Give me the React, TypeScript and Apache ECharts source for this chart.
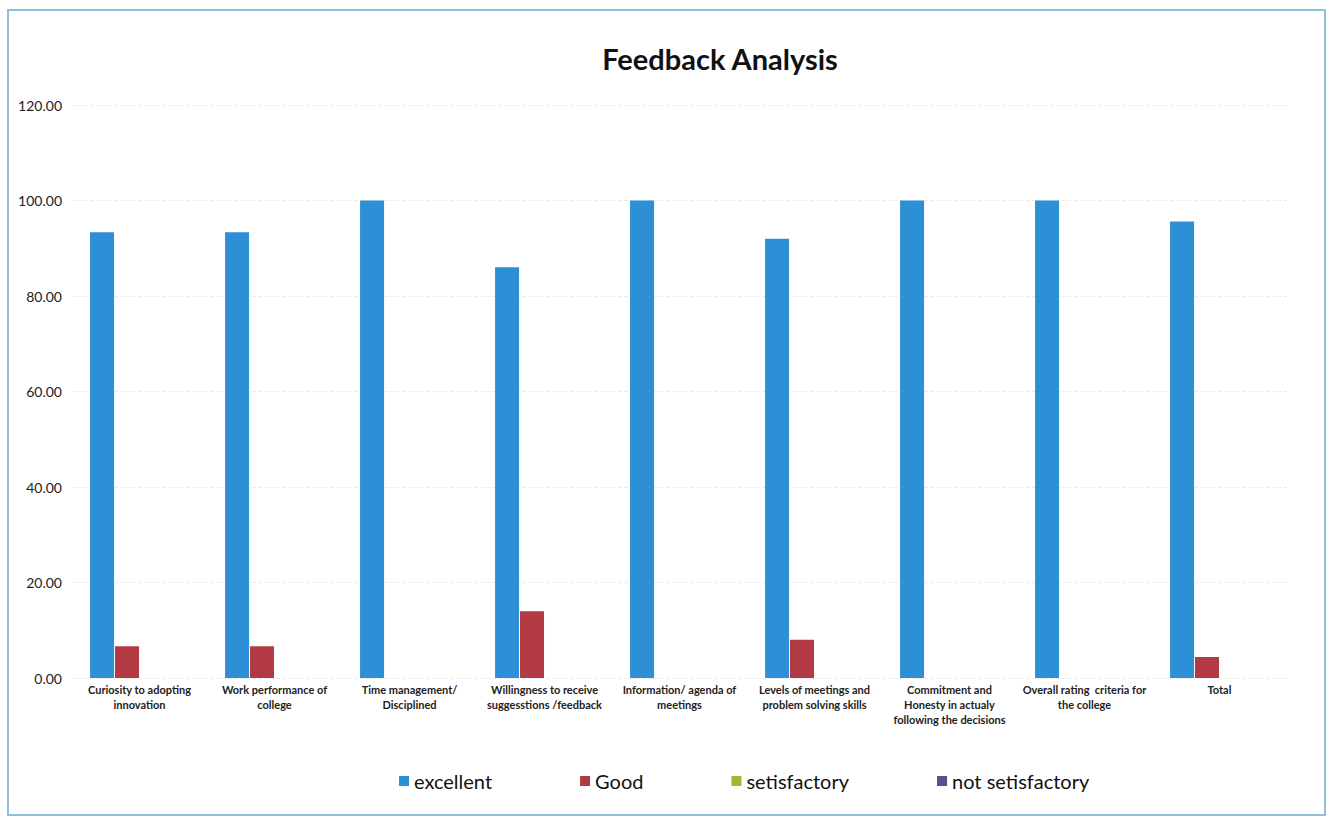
import React, { useEffect, useRef } from "react";
import * as echarts from "echarts";

const categories = [
  "Curiosity to adopting\ninnovation",
  "Work performance of\ncollege",
  "Time management/\nDisciplined",
  "Willingness to receive\nsuggesstions /feedback",
  "Information/ agenda of\nmeetings",
  "Levels of meetings and\nproblem solving skills",
  "Commitment and\nHonesty in actualy\nfollowing the decisions",
  "Overall rating  criteria for\nthe college",
  "Total",
];
const excellent = [93.33, 93.33, 100, 86, 100, 92, 100, 100, 95.6];
const good = [6.67, 6.67, 0, 14, 0, 8, 0, 0, 4.4];
const satisfactory = [0, 0, 0, 0, 0, 0, 0, 0, 0];
const notSatisfactory = [0, 0, 0, 0, 0, 0, 0, 0, 0];
const seriesNames = ["excellent", "Good", "setisfactory", "not setisfactory"];
const colors = ["#2d8fd6", "#b23a44", "#9bbb2f", "#5b4f8f"];

export default function App() {
  const ref = useRef<HTMLDivElement>(null);
  useEffect(() => {
    if (!ref.current) return;
    const chart = echarts.init(ref.current, null, { renderer: "svg" });
    const data = [excellent, good, satisfactory, notSatisfactory];
    chart.setOption({
      animation: false,
      backgroundColor: "#ffffff",
      title: {
        text: "Feedback Analysis",
        left: 715,
        top: 39,
        textAlign: "center",
        textStyle: { fontFamily: "Lato", fontWeight: "bold", fontSize: 29, color: "#111" },
      },
      graphic: [
        {
          type: "rect",
          shape: { x: 8, y: 10, width: 1317, height: 805 },
          style: { fill: "none", stroke: "#8cc0dc", lineWidth: 2 },
          silent: true,
        },
      ],
      grid: { left: 72, right: 46, top: 105, bottom: 140 },
      legend: {
        data: seriesNames,
        left: 394,
        top: 766,
        itemWidth: 10,
        itemHeight: 10,
        itemGap: 88,
        icon: "rect",
        textStyle: { fontFamily: "Lato", fontSize: 20, color: "#111" },
      },
      xAxis: {
        type: "category",
        data: categories,
        axisLine: { show: false },
        axisTick: { show: false },
        axisLabel: {
          interval: 0,
          fontFamily: "Lato",
          fontWeight: "bold",
          fontSize: 11,
          lineHeight: 15,
          color: "#222",
          margin: 4,
        },
      },
      yAxis: {
        type: "value",
        min: 0,
        max: 120,
        interval: 20,
        axisLine: { show: false },
        axisTick: { show: false },
        axisLabel: {
          formatter: (v: number) => v.toFixed(2),
          fontFamily: "Lato",
          fontSize: 14,
          color: "#222",
          margin: 10,
        },
        splitLine: { lineStyle: { color: "#ececec", type: "dashed" } },
      },
      series: seriesNames.map((name, i) => ({
        name,
        type: "bar",
        data: data[i],
        barWidth: 24,
        barGap: "4%",
        itemStyle: { color: colors[i] },
      })),
    });
    return () => chart.dispose();
  }, []);
  return (
    <div
      ref={ref}
      style={{ position: "absolute", left: 0, top: 0, width: 1333, height: 818 }}
    />
  );
}
